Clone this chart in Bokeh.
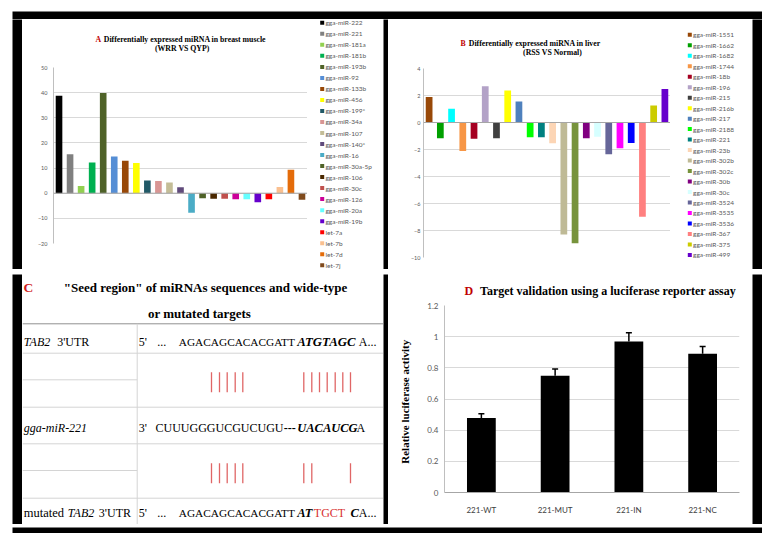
from bokeh.plotting import figure
from bokeh.models import (ColumnDataSource, Span, Range1d, FixedTicker, Whisker, TeeHead, Spacer)
from bokeh.layouts import row, column
from bokeh.embed import file_html
from bokeh.resources import INLINE
from bokeh.core.properties import value

# ---------------- Panel A data ----------------
a_names = ["gga-miR-222", "gga-miR-221", "gga-miR-181a", "gga-miR-181b", "gga-miR-193b",
           "gga-miR-92", "gga-miR-133b", "gga-miR-456", "gga-miR-199*", "gga-miR-34a",
           "gga-miR-107", "gga-miR-140*", "gga-miR-16", "gga-miR-30a-5p", "gga-miR-106",
           "gga-miR-30c", "gga-miR-126", "gga-miR-20a", "gga-miR-19b", "let-7a", "let-7b",
           "let-7d", "let-7j"]
a_values = [38.8, 15.5, 2.9, 12.2, 39.9, 14.6, 12.9, 12.0, 5.1, 4.9, 4.3, 2.4, -7.8, -2.0,
            -2.2, -2.2, -2.4, -2.4, -3.6, -2.4, 2.5, 9.3, -2.6]
a_colors = ["#000000", "#808080", "#92D050", "#00B050", "#4F6228", "#558ED5", "#984807",
            "#FFFF00", "#215967", "#D99694", "#C4BD97", "#604A7B", "#4BACC6", "#4F6228",
            "#4A2800", "#C0504D", "#CC0099", "#66FFFF", "#6600CC", "#FF0000", "#FAC090",
            "#E46C0A", "#7F4A1C"]
a_ticks = [-20, -10, 0, 10, 20, 30, 40, 50]
a_title = "Differentially expressed miRNA in breast muscle"
a_subtitle = "(WRR VS QYP)"

# ---------------- Panel B data ----------------
b_names = ["gga-miR-1551", "gga-miR-1662", "gga-miR-1682", "gga-miR-1744", "gga-miR-18b",
           "gga-miR-196", "gga-miR-215", "gga-miR-216b", "gga-miR-217", "gga-miR-2188",
           "gga-miR-221", "gga-miR-23b", "gga-miR-302b", "gga-miR-302c", "gga-miR-30b",
           "gga-miR-30c", "gga-miR-3524", "gga-miR-3535", "gga-miR-3536", "gga-miR-367",
           "gga-miR-375", "gga-miR-499"]
b_values = [1.88, -1.16, 1.01, -2.12, -1.21, 2.69, -1.16, 2.37, 1.56, -1.09, -1.09, -1.53,
            -8.30, -8.94, -1.16, -1.06, -2.35, -1.90, -1.51, -6.99, 1.26, 2.49]
b_colors = ["#984807", "#00A000", "#00FFFF", "#F79646", "#A50021", "#B3A2C7", "#404040",
            "#FFFF00", "#4F81BD", "#00FF00", "#008080", "#FCD5B5", "#BFBA96", "#77933C",
            "#800080", "#D6FFFF", "#666699", "#FF00FF", "#0000FF", "#FF8080", "#CCCC00",
            "#6600CC"]
b_ticks = [-10, -8, -6, -4, -2, 0, 2, 4]
b_title = "Differentially expressed miRNA in liver"
b_subtitle = "(RSS VS Normal)"

# ---------------- Panel D data ----------------
d_labels = ["221-WT", "221-MUT", "221-IN", "221-NC"]
d_values = [0.478, 0.749, 0.969, 0.890]
d_errors = [0.028, 0.043, 0.056, 0.047]
d_ticks = [0, 0.2, 0.4, 0.6, 0.8, 1.0, 1.2]
d_tick_labels = ["0", "0.2", "0.4", "0.6", "0.8", "1", "1.2"]
d_title = "Target validation using  a luciferase reporter assay"
d_ylabel = "Relative  luciferase  activity"

# ---------------- Panel C text ----------------
c_title1 = '"Seed region" of miRNAs sequences and wide-type'
c_title2 = "or mutated targets"

SERIF = "Liberation Serif"
SANS = "Lato"
RED = "#C00000"


def canvas(w, h, left=0, right=0):
    """A figure mapped 1:1 to its own pixels (y downward); frame spans left..w-right."""
    p = figure(width=w, height=h, x_range=Range1d(left, w - right), y_range=Range1d(h, 0),
               output_backend="svg", toolbar_location=None, title=None,
               min_border_left=left, min_border_right=right, min_border_top=0,
               min_border_bottom=0)
    p.outline_line_color = None
    p.xaxis.visible = False
    p.yaxis.visible = False
    p.grid.visible = False
    return p


def black(w, h):
    p = figure(width=w, height=h, x_range=Range1d(0, 1), y_range=Range1d(0, 1),
               output_backend="svg", toolbar_location=None, title=None,
               min_border_left=0, min_border_right=0, min_border_top=0, min_border_bottom=0,
               background_fill_color="black", border_fill_color="black")
    p.outline_line_color = None
    p.xaxis.visible = False
    p.yaxis.visible = False
    p.grid.visible = False
    return p


def stext(p, x, y, text, size, style="normal", color="black", font=SERIF, align="left"):
    p.text(x=[x], y=[y], text=[text], text_font=value(font), text_font_style=style,
           text_color=color, text_font_size=size, text_baseline="middle", text_align=align)


def no_ticks(ax):
    ax.major_tick_line_color = None
    ax.minor_tick_line_color = None
    ax.major_tick_out = 0
    ax.major_tick_in = 0
    ax.minor_tick_out = 0
    ax.minor_tick_in = 0


def bar_panel(names, values, colors, ticks, yr, w, h, left, top, bottom, standoff):
    p = figure(width=w, height=h, x_range=names, y_range=Range1d(*yr),
               output_backend="svg", toolbar_location=None, title=None,
               min_border_left=left, min_border_right=0,
               min_border_top=top, min_border_bottom=bottom)
    p.outline_line_color = None
    p.xaxis.visible = False
    p.xgrid.visible = False
    p.yaxis.ticker = FixedTicker(ticks=ticks)
    p.ygrid.ticker = FixedTicker(ticks=ticks)
    p.ygrid.grid_line_color = "#D9D9D9"
    p.yaxis.major_label_text_font = SANS
    p.yaxis.major_label_text_font_size = "5.5px"
    p.yaxis.major_label_text_color = "#595959"
    no_ticks(p.yaxis)
    p.yaxis.axis_line_color = "#BFBFBF"
    p.yaxis.major_label_standoff = standoff
    src = ColumnDataSource(dict(name=names, value=values, color=colors))
    p.vbar(x="name", top="value", bottom=0, width=0.6, fill_color="color",
           line_color=None, source=src)
    p.add_layout(Span(location=0, dimension="width", line_color="#A6A6A6", line_width=1))
    return p


def legend_canvas(w, h, names, colors, sq_x, y0, step):
    p = canvas(w, h)
    ys = [y0 + step * i for i in range(len(names))]
    p.rect(x=[sq_x] * len(names), y=ys, width=4, height=4, fill_color=colors, line_color=None)
    p.text(x=[sq_x + 3.3] * len(names), y=ys, text=names, text_font=value(SANS),
           text_font_size="6.5px", text_color="#595959", text_baseline="middle",
           text_align="left")
    return p


# ---------------- Panel A ----------------
tA = canvas(285, 40, left=31, right=0)
stext(tA, 73, 20, "A", "7.8px", "bold", RED)
stext(tA, 81.3, 20, a_title, "7.8px", "bold")
stext(tA, 159.7, 29, a_subtitle, "7.8px", "bold", align="center")
pA = bar_panel(a_names, a_values, a_colors, a_ticks, (-20, 50), 285, 210, 31, 8, 26, 6)
lA = legend_canvas(76, 250, a_names, a_colors, 14.7, 3.3, 11.02)
panelA = row(column(tA, pA, spacing=0), lA, spacing=0)

# ---------------- Panel B ----------------
tB = canvas(282, 40, left=35, right=0)
stext(tB, 72, 24.3, "B", "7.8px", "bold", RED)
stext(tB, 80.3, 24.3, b_title, "7.8px", "bold")
stext(tB, 164, 33.3, b_subtitle, "7.8px", "bold", align="center")
pB = bar_panel(b_names, b_values, b_colors, b_ticks, (-10, 4), 282, 210, 35, 9, 12, 3)
lB = legend_canvas(82, 250, b_names, b_colors, 19.3, 15.3, 10.48)
panelB = row(column(tB, pB, spacing=0), lB, spacing=0)

# ---------------- Panel D ----------------
tD = canvas(364, 24, left=56, right=13)
stext(tD, 76, 16, "D", "12px", "bold", RED)
stext(tD, 350.5, 16, d_title, "12px", "bold", align="right")
pD = figure(width=364, height=226, x_range=d_labels, y_range=Range1d(0, 1.2),
            output_backend="svg", toolbar_location=None, title=None,
            min_border_left=56, min_border_right=13, min_border_top=7, min_border_bottom=32)
pD.outline_line_color = None
pD.xgrid.visible = False
pD.yaxis.ticker = FixedTicker(ticks=d_ticks)
pD.ygrid.ticker = FixedTicker(ticks=d_ticks)
pD.ygrid.grid_line_color = "#D9D9D9"
pD.yaxis.major_label_overrides = {t: s for t, s in zip(d_ticks, d_tick_labels)}
for ax in (pD.xaxis, pD.yaxis):
    ax.major_label_text_font = SANS
    ax.major_label_text_font_size = "8px"
    no_ticks(ax)
pD.yaxis.major_label_text_color = "#595959"
pD.xaxis.major_label_text_color = "#404040"
pD.yaxis.axis_line_color = "#BFBFBF"
pD.xaxis.axis_line_color = "#A6A6A6"
pD.yaxis.major_label_standoff = 6
pD.xaxis.major_label_standoff = 12
pD.yaxis.axis_label = d_ylabel
pD.yaxis.axis_label_text_font = SERIF
pD.yaxis.axis_label_text_font_style = "bold"
pD.yaxis.axis_label_text_font_size = "11px"
pD.yaxis.axis_label_text_color = "black"
pD.yaxis.axis_label_standoff = 13
d_upper = [v + e for v, e in zip(d_values, d_errors)]
srcD = ColumnDataSource(dict(x=d_labels, top=d_values, upper=d_upper))
pD.vbar(x="x", top="top", bottom=0, width=0.39, fill_color="black", line_color=None, source=srcD)
pD.add_layout(Whisker(base="x", lower="top", upper="upper", source=srcD, dimension="height",
                      line_color="black", line_width=1.5, lower_head=None,
                      upper_head=TeeHead(size=6, line_width=1.5, line_color="black")))
panelD = column(tD, pD, spacing=0)

# ---------------- Panel C (table) ----------------
pC = canvas(361, 250)
col_x = 114.7
full_lines = [78.7, 132.7, 169.3, 223.7]
left_lines = [105.3, 196.0]
pC.segment(x0=[0], x1=[361], y0=[49.3], y1=[49.3], line_color="#909090", line_width=1)
pC.segment(x0=[0] * len(full_lines), x1=[361] * len(full_lines), y0=full_lines, y1=full_lines,
           line_color="#D4D4D4", line_width=1)
pC.segment(x0=[0] * len(left_lines), x1=[col_x] * len(left_lines), y0=left_lines, y1=left_lines,
           line_color="#D4D4D4", line_width=1)
pC.segment(x0=[col_x], x1=[col_x], y0=[49.3], y1=[250], line_color="#D4D4D4", line_width=1)

pair1 = [189, 197, 204.7, 212.7, 220.3, 281.3, 289.3, 297, 304.7, 312.7, 320.3, 328]
pair2 = [189, 197, 204.7, 212.7, 220.3, 281.3, 289.3, 328]
pC.segment(x0=pair1, x1=pair1, y0=[97.7] * len(pair1), y1=[117.7] * len(pair1),
           line_color="#E06666", line_width=1.3)
pC.segment(x0=pair2, x1=pair2, y0=[188.7] * len(pair2), y1=[208.7] * len(pair2),
           line_color="#E06666", line_width=1.3)

pieces = [
    # text, x, y, style, color, size
    ("TAB2", 1.3, 67, "italic", "black", "12px"),
    ("3'UTR", 34.7, 67, "normal", "black", "12px"),
    ("5'", 116.3, 67, "normal", "black", "12px"),
    ("...", 134.7, 67, "normal", "black", "12px"),
    ("AGACAGCACACGATT", 156.3, 67, "normal", "black", "11.3px"),
    ("ATGTAGC", 274.7, 67, "bold italic", "black", "12.8px"),
    ("A...", 336.3, 67, "normal", "black", "12px"),
    ("gga-miR-221", 1.3, 153, "italic", "black", "12px"),
    ("3'", 116.3, 153, "normal", "black", "12px"),
    ("CUUUGGGUCGUCUGU", 133, 153, "normal", "black", "12px"),
    ("---", 261.3, 153, "bold", "black", "12px"),
    ("UACAUCG", 274.7, 153, "bold italic", "black", "12.5px"),
    ("A", 334, 153, "normal", "black", "12px"),
    ("mutated", 1.3, 238.3, "normal", "black", "12.5px"),
    ("TAB2", 45.3, 238.3, "italic", "black", "12px"),
    ("3'UTR", 76.3, 238.3, "normal", "black", "12px"),
    ("5'", 116.3, 238.3, "normal", "black", "12px"),
    ("...", 134.7, 238.3, "normal", "black", "12px"),
    ("AGACAGCACACGATT", 156.3, 238.3, "normal", "black", "11.3px"),
    ("AT", 274.7, 238.3, "bold italic", "black", "12.5px"),
    ("TGCT", 291.3, 238.3, "normal", "#D83030", "12px"),
    ("C", 328, 238.3, "bold italic", "black", "12.5px"),
    ("A...", 336.3, 238.3, "normal", "black", "12px"),
]
for txt, x, y, style, color, size in pieces:
    stext(pC, x, y, txt, size, style, color)
stext(pC, 1, 12.7, "C", "13.5px", "bold", "#D02020")
stext(pC, 183, 12.7, c_title1, "13px", "bold", align="center")
stext(pC, 177, 38.7, c_title2, "13px", "bold", align="center")

# ---------------- Black frame and grid ----------------
top_row = row(black(10, 250), panelA, black(5, 250), panelB, black(10, 250), spacing=0)
bot_row = row(black(10, 250), pC, black(5, 250), panelD, black(10, 250), spacing=0)
box = column(black(750, 10), top_row, black(750, 5), bot_row, black(750, 9), spacing=0)
root = row(Spacer(width=12, height=533),
           column(Spacer(width=750, height=9), box, spacing=0), spacing=0)

open("out.html", "w").write(file_html(root, INLINE))
